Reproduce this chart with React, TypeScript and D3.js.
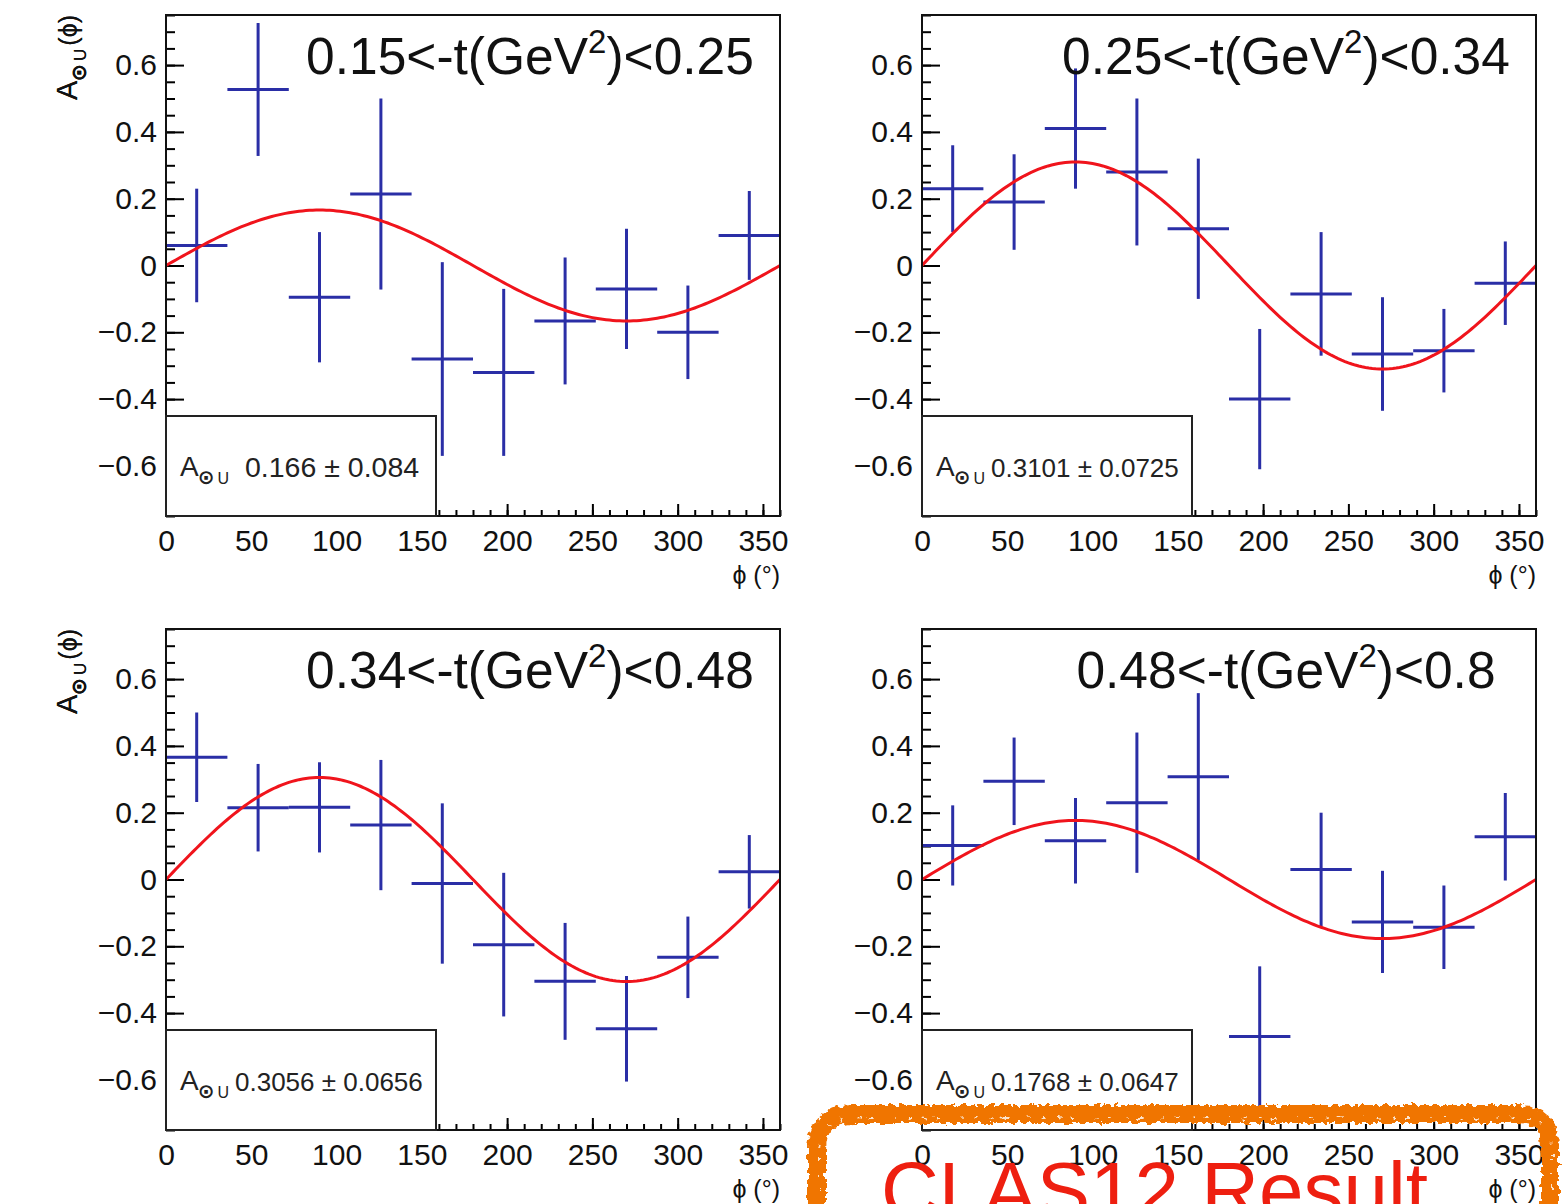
import { useEffect, useRef } from 'react';
import * as d3 from 'd3';

// phi bin centres in degrees (10 bins of 36 deg)
const phiBins = [18, 54, 90, 126, 162, 198, 234, 270, 306, 342];
const binHalfWidth = 18;

// -t bin edges for the four panels
const tLow = ["0.15", "0.25", "0.34", "0.48"];
const tHigh = ["0.25", "0.34", "0.48", "0.8"];

// beam spin asymmetry per phi bin, with its error
const asymT1 = [0.06, 0.527, -0.095, 0.214, -0.28, -0.32, -0.166, -0.07, -0.2, 0.09];
const errT1 = [0.17, 0.199, 0.195, 0.286, 0.29, 0.25, 0.19, 0.18, 0.14, 0.133];
const asymT2 = [0.23, 0.19, 0.41, 0.28, 0.11, -0.4, -0.085, -0.265, -0.255, -0.053];
const errT2 = [0.13, 0.143, 0.18, 0.22, 0.21, 0.21, 0.185, 0.17, 0.125, 0.125];
const asymT3 = [0.366, 0.215, 0.216, 0.163, -0.012, -0.195, -0.305, -0.447, -0.233, 0.023];
const errT3 = [0.134, 0.131, 0.135, 0.195, 0.24, 0.215, 0.175, 0.158, 0.122, 0.11];
const asymT4 = [0.102, 0.294, 0.116, 0.23, 0.308, -0.47, 0.03, -0.127, -0.143, 0.128];
const errT4 = [0.12, 0.131, 0.128, 0.21, 0.25, 0.21, 0.17, 0.153, 0.125, 0.131];

// fitted sin(phi) amplitude and its error, as printed in the stat boxes
const fitAmp = [0.166, 0.3101, 0.3056, 0.1768];
const fitAmpText = ["0.166", "0.3101", "0.3056", "0.1768"];
const fitErrText = ["0.084", "0.0725", "0.0656", "0.0647"];

const yMajorTicks = [-0.6, -0.4, -0.2, 0, 0.2, 0.4, 0.6];
const xMajorTicks = [0, 50, 100, 150, 200, 250, 300, 350];

const asymData = [asymT1, asymT2, asymT3, asymT4];
const errData = [errT1, errT2, errT3, errT4];

const FONT = "'Liberation Sans', Arial, Helvetica, 'DejaVu Sans', sans-serif";
const PANEL_W = 614;
const PANEL_H = 501;
const origins = [[166, 15], [922, 15], [166, 629], [922, 629]];

function drawPanel(svg, i) {
    const [left, top] = origins[i];
    const g = svg.append("g").attr("transform", `translate(${left},${top})`);

    const x = d3.scaleLinear().domain([0, 360]).range([0, PANEL_W]);
    const y = d3.scaleLinear().domain([-0.75, 0.75]).range([PANEL_H, 0]);

    const fmt = d => (d === 0 ? "0" : d3.format(".1f")(d));

    // minor ticks (inward, ROOT style)
    const minorY = d3.range(-15, 16).map(k => k * 0.05);
    g.append("g")
        .call(d3.axisLeft(y).tickValues(minorY).tickSize(-9).tickFormat(() => ""))
        .call(s => s.select(".domain").remove())
        .selectAll("line").attr("stroke-width", 2);
    g.append("g")
        .attr("transform", `translate(0,${PANEL_H})`)
        .call(d3.axisBottom(x).tickValues(d3.range(0, 361, 10)).tickSize(-6).tickFormat(() => ""))
        .call(s => s.select(".domain").remove())
        .selectAll("line").attr("stroke-width", 2);

    // Y axis
    const yAxis = g.append("g")
        .call(d3.axisLeft(y).tickValues(yMajorTicks).tickSize(-18).tickPadding(9).tickFormat(fmt))
        .attr("font-size", 30)
        .attr("font-family", FONT);
    yAxis.select(".domain").remove();
    yAxis.selectAll("line").attr("stroke-width", 2);
    yAxis.selectAll("text").attr("fill", "#111");

    // X axis
    const xAxis = g.append("g")
        .attr("transform", `translate(0,${PANEL_H})`)
        .call(d3.axisBottom(x).tickValues(xMajorTicks).tickSize(-12).tickPadding(14))
        .attr("font-size", 30)
        .attr("font-family", FONT);
    xAxis.select(".domain").remove();
    xAxis.selectAll("line").attr("stroke-width", 2);
    xAxis.selectAll("text").attr("fill", "#111");

    // data points with error bars
    const pts = phiBins.map((phi, k) => ({ phi, v: asymData[i][k], e: errData[i][k] }));
    const bars = g.append("g").attr("stroke", "#2a2ea6").attr("stroke-width", 3);
    bars.selectAll(".vbar")
        .data(pts)
        .enter()
        .append("line")
        .attr("x1", d => x(d.phi))
        .attr("x2", d => x(d.phi))
        .attr("y1", d => y(d.v + d.e))
        .attr("y2", d => y(d.v - d.e));
    bars.selectAll(".hbar")
        .data(pts)
        .enter()
        .append("line")
        .attr("x1", d => x(d.phi - binHalfWidth))
        .attr("x2", d => x(d.phi + binHalfWidth))
        .attr("y1", d => y(d.v))
        .attr("y2", d => y(d.v));

    // fit curve A sin(phi)
    const line = d3.line()
        .x(d => x(d))
        .y(d => y(fitAmp[i] * Math.sin(d * Math.PI / 180)));
    g.append("path")
        .datum(d3.range(0, 361, 2))
        .attr("fill", "none")
        .attr("stroke", "#f0141c")
        .attr("stroke-width", 3)
        .attr("d", line);

    // frame
    g.append("rect")
        .attr("width", PANEL_W)
        .attr("height", PANEL_H)
        .attr("fill", "none")
        .attr("stroke", "#111")
        .attr("stroke-width", 2);

    // stat box
    const boxH = 100;
    g.append("rect")
        .attr("x", 0)
        .attr("y", PANEL_H - boxH)
        .attr("width", 270)
        .attr("height", boxH)
        .attr("fill", "white")
        .attr("stroke", "#222")
        .attr("stroke-width", 2);
    const statSize = i === 0 ? 28.5 : 26;
    const lab = g.append("text")
        .attr("x", 14)
        .attr("y", PANEL_H - boxH + 60)
        .attr("font-family", FONT)
        .attr("font-size", 28)
        .attr("fill", "#222");
    lab.append("tspan").text("A");
    lab.append("tspan").attr("font-size", 20).attr("font-weight", "bold").attr("dy", 8).attr("dx", -1).text("⊙");
    lab.append("tspan").attr("font-size", 16).attr("dx", 3).text("U");
    g.append("text")
        .attr("x", i === 0 ? 79 : 69)
        .attr("y", PANEL_H - boxH + 61)
        .attr("font-family", FONT)
        .attr("font-size", statSize)
        .attr("fill", "#222")
        .text(`${fitAmpText[i]} ± ${fitErrText[i]}`);

    // t-bin title
    const title = g.append("text")
        .attr("x", 364)
        .attr("y", 59)
        .attr("text-anchor", "middle")
        .attr("font-family", FONT)
        .attr("font-size", 51.5)
        .attr("fill", "#111");
    title.append("tspan").text(`${tLow[i]}<-t(GeV`);
    title.append("tspan").attr("font-size", 33).attr("dy", -21).text("2");
    title.append("tspan").attr("dy", 21).text(`)<${tHigh[i]}`);

    // y axis label
    const yl = g.append("text")
        .attr("transform", `translate(${77 - left},0) rotate(-90)`)
        .attr("text-anchor", "end")
        .attr("font-family", FONT)
        .attr("font-size", 29)
        .attr("fill", "#111");
    yl.append("tspan").text("A");
    yl.append("tspan").attr("font-size", 21).attr("font-weight", "bold").attr("dy", 9).attr("dx", -1).text("⊙");
    yl.append("tspan").attr("font-size", 17).attr("dx", 3).text("U");
    yl.append("tspan").attr("font-size", 25).attr("dy", -9).attr("dx", 3).text("(ϕ)");

    // x axis label
    g.append("text")
        .attr("x", PANEL_W)
        .attr("y", PANEL_H + 68)
        .attr("text-anchor", "end")
        .attr("font-family", FONT)
        .attr("font-size", 25)
        .attr("fill", "#111")
        .text("ϕ (°)");
}

export default function App() {
    const svgRef = useRef(null);

    useEffect(() => {
        const svg = d3.select(svgRef.current);
        svg.selectAll("*").remove();

        // rough brush look for the highlight box
        const filter = svg.append("defs").append("filter")
            .attr("id", "rough")
            .attr("x", "-5%").attr("y", "-20%")
            .attr("width", "110%").attr("height", "140%");
        filter.append("feTurbulence")
            .attr("type", "fractalNoise")
            .attr("baseFrequency", 0.18)
            .attr("numOctaves", 2)
            .attr("seed", 4)
            .attr("result", "noise");
        filter.append("feDisplacementMap")
            .attr("in", "SourceGraphic")
            .attr("in2", "noise")
            .attr("scale", 9)
            .attr("xChannelSelector", "R")
            .attr("yChannelSelector", "G");

        origins.forEach((_, i) => drawPanel(svg, i));

        // "CLAS12 Result" highlight
        const box = "M 817 1240 L 817 1150 Q 817 1114 853 1114 L 1518 1114 Q 1550 1114 1550 1146 L 1550 1240";
        svg.append("path")
            .attr("d", box)
            .attr("fill", "none")
            .attr("stroke", "#f07400")
            .attr("stroke-width", 18)
            .attr("filter", "url(#rough)");
        svg.append("path")
            .attr("d", box)
            .attr("fill", "none")
            .attr("stroke", "white")
            .attr("stroke-width", 2)
            .attr("stroke-dasharray", "3 14 2 9 5 21 1 12")
            .attr("opacity", 0.8)
            .attr("transform", "translate(2,4)")
            .attr("filter", "url(#rough)");

        svg.append("text")
            .attr("x", 881)
            .attr("y", 1218)
            .attr("font-family", FONT)
            .attr("font-size", 80)
            .attr("fill", "#ee1f10")
            .text("CLAS12 Result");
    }, []);

    return (
        <div style={{ position: 'absolute', left: 0, top: 0 }}>
            <svg ref={svgRef} width={1564} height={1204} style={{ display: 'block', background: 'white' }}></svg>
        </div>
    );
}
